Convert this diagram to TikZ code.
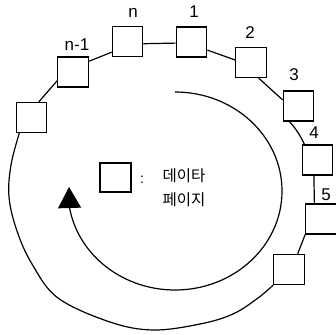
\documentclass[tikz,border=0pt]{standalone}
\usepackage{fontspec}
\setmainfont{Liberation Sans}
\newfontfamily\krfont{Noto Sans CJK KR}
\usetikzlibrary{arrows.meta}
\begin{document}
\begin{tikzpicture}[x=1pt,y=-1pt,
  page/.style={draw,line width=1.2pt,fill=white,minimum width=30.5pt,minimum height=30pt,inner sep=0pt},
  ring/.style={line width=1.2pt},
  lbl/.style={font=\fontsize{17}{17}\selectfont,anchor=base,inner sep=0pt},
  krlbl/.style={font=\krfont\fontsize{15.5}{16}\selectfont,inner sep=0pt}
]
\useasboundingbox (0,0) rectangle (336,334);
% boxes
\node[page] (bl) at (31.5,117.5) {};
\node[page] (bnm) at (73,72) {};
\node[page] (bn) at (127.5,41.5) {};
\node[page] (b1) at (191.5,42) {};
\node[page] (b2) at (251,62.5) {};
\node[page] (b3) at (298.5,106) {};
\node[page] (b4) at (317.5,160) {};
\node[page] (b5) at (321,219) {};
\node[page] (b6) at (289,269.5) {};
% ring connectors
\draw[ring] (bl.65) -- (bnm.209);
\draw[ring] (bnm.34) -- (bn.214);
\draw[ring] (bn.-8) -- (b1.184);
\draw[ring] (b1.-27) -- (b2.171);
\draw[ring] (b2.-64) -- (b3.159);
\draw[ring] (b3.240) to[bend left=8] (b4.130);
\draw[ring] (b4.257) -- (b5.113);
\draw[ring] (b5.south west) -- (b6.61);
\coordinate (r0) at (b6.south west);
\coordinate (r1) at (bl.232);
\draw[ring] plot[smooth,tension=0.6] coordinates {(r0) (258,298) (233,314) (200,324) (153,330) (110,322) (58,298) (32,264) (17,231) (9,197) (11,165) (r1)};
% inner arrow
\coordinate (s0) at (175,92);
\coordinate (tip) at (69,187);
\draw[ring,-{Triangle[width=23pt,length=21pt]}] (s0) arc[start angle=-90, end angle=170, x radius=107, y radius=99] -- (tip);
% labels
\node[lbl] (ln) at (133,18) {n};
\node[lbl] (l1) at (194,18) {1};
\node[lbl] (l2) at (250,39) {2};
\node[lbl] (l3) at (294,81) {3};
\node[lbl] (l4) at (314,138) {4};
\node[lbl] (l5) at (326,200) {5};
\node[lbl] (lnm) at (77,51) {n-1};
% legend
\node[page,minimum width=31pt,minimum height=29pt] (lg) at (115.5,177.5) {};
\node[font=\fontsize{14}{14}\selectfont,inner sep=0pt] (colon) at (142,180) {:};
\node[krlbl] (t1) at (184,176) {데이타};
\node[krlbl] (t2) at (184,200) {페이지};
\end{tikzpicture}
\end{document}
